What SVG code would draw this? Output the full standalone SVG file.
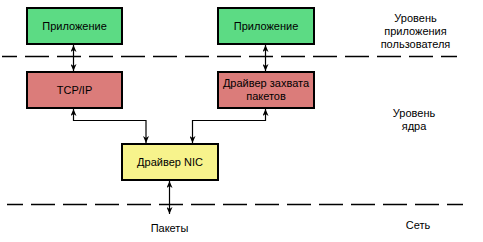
<svg xmlns="http://www.w3.org/2000/svg" width="483" height="242" viewBox="0 0 483 242">
<style>
text{font-family:"Liberation Sans",Arial,sans-serif;font-size:11px;fill:#000;text-anchor:middle}
.box{stroke:#000;stroke-width:2}
.app{fill:#5CDB84}
.krn{fill:#DB7C7A}
.nic{fill:#F7F38C}
.dash{stroke:#000;stroke-width:1.5;fill:none;stroke-dasharray:24 8}
.conn{stroke:#000;stroke-width:1.2;fill:none;marker-start:url(#ah);marker-end:url(#ah)}
</style>
<defs>
<marker id="ah" viewBox="0 0 10 10" refX="10" refY="5" markerWidth="7" markerHeight="6" markerUnits="userSpaceOnUse" orient="auto-start-reverse" preserveAspectRatio="none">
<path d="M0,0 L10,5 L0,10 L3,5 Z" fill="#000"/>
</marker>
</defs>
<rect width="483" height="242" fill="#fff"/>
<g id="separators">
<line class="dash" x1="2" y1="56.5" x2="457" y2="56.5" stroke-dashoffset="9"/>
<line class="dash" x1="7" y1="204.5" x2="463" y2="204.5" stroke-dashoffset="8"/>
</g>
<g id="connectors">
<path class="conn" d="M73.5,45 V71"/>
<path class="conn" d="M265.5,45 V71"/>
<path class="conn" d="M73.5,109 V120.5 H146 V143"/>
<path class="conn" d="M265.5,109 V120.5 H192.5 V143"/>
<path class="conn" d="M169.5,181 V214"/>
</g>
<g id="app1"><rect class="box app" x="27" y="8" width="95" height="36"/><text x="74.5" y="29.5">Приложение</text></g>
<g id="app2"><rect class="box app" x="218" y="8" width="96" height="36"/><text x="266" y="29.5">Приложение</text></g>
<g id="tcpip"><rect class="box krn" x="27" y="72" width="95" height="36"/><text x="74.5" y="93.5">TCP/IP</text></g>
<g id="capture"><rect class="box krn" x="218" y="72" width="96" height="36"/><text x="266" y="86.5">Драйвер захвата</text><text x="266" y="99.5">пакетов</text></g>
<g id="nic"><rect class="box nic" x="122" y="144" width="96" height="36"/><text x="170" y="166">Драйвер NIC</text></g>
<g id="labels">
<text x="415.5" y="21.5">Уровень</text>
<text x="415.5" y="34.5">приложения</text>
<text x="415.5" y="47.5">пользователя</text>
<text x="414" y="117">Уровень</text>
<text x="414" y="130">ядра</text>
<text x="418" y="228.5">Сеть</text>
<text x="169.5" y="231.5">Пакеты</text>
</g>
</svg>
